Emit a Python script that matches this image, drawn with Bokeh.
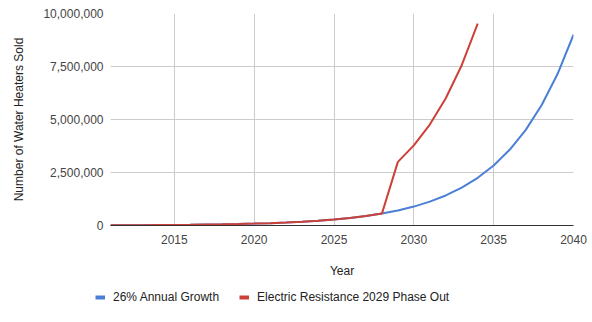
from bokeh.plotting import figure
from bokeh.layouts import column
from bokeh.models import FixedTicker, NumeralTickFormatter, Legend, LegendItem, Range1d
from bokeh.embed import file_html
from bokeh.resources import INLINE

years = list(range(2011, 2041))
growth = [11054, 13928, 17549, 22112, 27861, 35105, 44232, 55732, 70222, 88479,
          111483, 140468, 176989, 223006, 280987, 354043, 446094, 562078, 708218, 892354,
          1124366, 1416701, 1785043, 2249154, 2833934, 3570757, 4499154, 5668934, 7142857, 9000000]
phase_years = list(range(2011, 2035))
phase_out = [11054, 13928, 17549, 22112, 27861, 35105, 44232, 55732, 70222, 88479,
             111483, 140468, 176989, 223006, 280987, 354043, 446094, 562078,
             3000000, 3780000, 4760000, 6000000, 7560000, 9520000]
x_ticks = [2015, 2020, 2025, 2030, 2035, 2040]
y_ticks = [0, 2500000, 5000000, 7500000, 10000000]
series_names = ["26% Annual Growth", "Electric Resistance 2029 Phase Out"]
series_colors = ["#4a7fd6", "#cc4038"]

FONT = "Liberation Sans"
p = figure(width=592, height=282, output_backend="svg", toolbar_location=None,
           x_range=Range1d(2011, 2040), y_range=Range1d(0, 10000000),
           min_border_left=110, min_border_right=19, min_border_top=13, min_border_bottom=57)
p.outline_line_color = None
p.background_fill_color = "white"
p.frame_align = False

p.line(years, growth, line_color=series_colors[0], line_width=2)
p.line(phase_years, phase_out, line_color=series_colors[1], line_width=2)

p.xaxis.ticker = FixedTicker(ticks=x_ticks)
p.yaxis.ticker = FixedTicker(ticks=y_ticks)
p.yaxis.formatter = NumeralTickFormatter(format="0,0")
for ax in (p.xaxis, p.yaxis):
    ax.major_label_text_font = FONT
    ax.major_label_text_font_size = "12px"
    ax.major_label_text_color = "#444444"
    ax.axis_label_text_font = FONT
    ax.axis_label_text_font_size = "12px"
    ax.axis_label_text_color = "#222222"
    ax.axis_label_text_font_style = "normal"
    ax.major_tick_line_color = None
    ax.minor_tick_line_color = None
p.xaxis.axis_label = "Year"
p.yaxis.axis_label = "Number of Water Heaters Sold"
p.xaxis.axis_line_color = "#333333"
p.yaxis.axis_line_color = None
p.xaxis.major_label_standoff = 3
p.yaxis.major_label_standoff = 1
p.xaxis.axis_label_standoff = 17
p.yaxis.axis_label_standoff = 14

p.xgrid.grid_line_color = "#cccccc"
p.ygrid.grid_line_color = "#cccccc"

# legend strip below the chart
q = figure(width=592, height=40, output_backend="svg", toolbar_location=None,
           x_axis_type=None, y_axis_type=None,
           x_range=Range1d(0, 1), y_range=Range1d(0, 1),
           min_border_left=0, min_border_right=0, min_border_top=0, min_border_bottom=0)
q.frame_align = False
q.grid.visible = False
q.outline_line_color = None
items = []
for name, color in zip(series_names, series_colors):
    r = q.line([-1, -2], [-1, -2], line_color=color, line_width=4)
    items.append(LegendItem(label=name, renderers=[r]))
legend = Legend(items=items, orientation="horizontal", location=(95, 18),
                label_text_font=FONT, label_text_font_size="12px", label_text_color="#222222",
                glyph_width=10, glyph_height=10, spacing=20, padding=2, margin=0,
                label_standoff=8, border_line_color=None, background_fill_alpha=0)
q.add_layout(legend, "center")

open("out.html", "w").write(file_html(column(p, q, spacing=0), INLINE))
